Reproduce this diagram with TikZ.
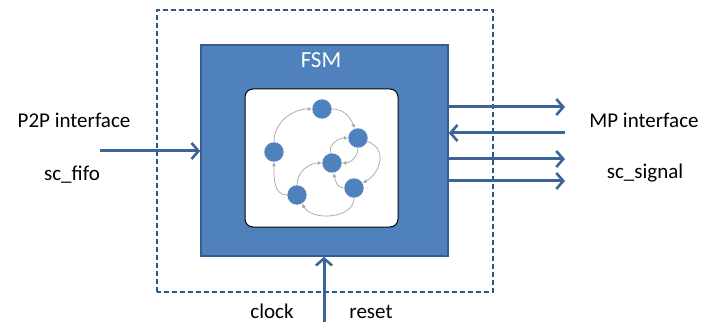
\documentclass[tikz,border=0pt]{standalone}
\usepackage{fontspec}
\setmainfont{Carlito}
\usepackage{tikz}
\usetikzlibrary{arrows.meta,positioning,calc}
\definecolor{fsmBlue}  {RGB}{ 79,129,189}
\definecolor{fsmBlueD} {RGB}{ 56, 93,138}
\definecolor{sigBlue}  {RGB}{ 60,100,152}
\definecolor{dashBlue} {RGB}{ 47, 85,140}
\definecolor{trGrey}   {RGB}{165,165,165}

\begin{document}
\begin{tikzpicture}[
  x=1pt,y=1pt,
  every node/.style={font=\fontsize{21}{25}\selectfont},
  fsm/.style  ={draw=fsmBlueD,fill=fsmBlue,line width=1.5pt},
  core/.style ={draw=black,fill=white,line width=1pt,rounded corners=8pt},
  wrap/.style ={draw=dashBlue,line width=1.2pt,dash pattern=on 5pt off 3pt},
  st/.style   ={circle,fill=fsmBlue,draw=white,line width=0.4pt,
                minimum size=20pt,inner sep=0pt},
  tr/.style   ={->,>={Latex[length=4pt,width=4pt]},draw=trGrey,line width=0.7pt},
  sig/.style  ={draw=sigBlue,line width=3pt,
                -{Straight Barb[length=7pt,width=16pt,line width=2.6pt]}},
  lbl/.style  ={anchor=base,inner sep=0pt}
]
\useasboundingbox (0,0) rectangle (716,322);

% outer module boundary and the FSM block
\draw[wrap] (157,30) rectangle (493,312);
\node[fsm,minimum width=247pt,minimum height=211pt,inner sep=0pt] (fsmBox) at (324.5,171.5) {};
\node[lbl,text=white,font=\fontsize{23}{27}\selectfont] (fsmLbl) at (321,254) {FSM};
\node[core,minimum width=153pt,minimum height=138pt,inner sep=0pt] (core) at (321.5,164) {};

% states
\node[st] (S1) at (322,213) {};
\node[st] (S2) at (358,184) {};
\node[st] (S3) at (274,170) {};
\node[st] (S4) at (332,159) {};
\node[st] (S5) at (354,134) {};
\node[st] (S6) at (297,127) {};

% transitions
\draw[tr] (S3) to[out=90,in=180] (S1);
\draw[tr] (S1) to[out=0,in=110] (S2);
\draw[tr] (S2) to[out=-90,in=0] (S4);
\draw[tr] (S4) to[out=100,in=180] (S2);
\draw[tr] (S2) to[out=-20,in=30,looseness=1.3] (S5);
\draw[tr] (S5) to[out=180,in=-80] (S4);
\draw[tr] (S6) to[out=90,in=180] (S4);
\draw[tr] (S5) to[out=-90,in=-60] (S6);
\draw[tr] (S6) to[out=180,in=-90] (S3);

% interface labels
\node[lbl] (p2p)  at (74,194)  {P2P interface};
\node[lbl] (fifo) at (72,142)  {sc\_fifo};
\node[lbl] (mp)   at (644,194) {MP interface};
\node[lbl] (scs)  at (645,143) {sc\_signal};
\node[lbl] (clk)  at (272,4)   {clock};
\node[lbl] (rst)  at (371,4)   {reset};

% signal ends
\coordinate (inL) at (100,171);
\coordinate (inB) at (324,0);
\coordinate (o1) at (565,215);
\coordinate (o2) at (565,189);
\coordinate (o3) at (565,163);
\coordinate (o4) at (565,141);

\draw[sig] (inL) -- (inL -| fsmBox.west);
\draw[sig] (inB) -- (inB |- fsmBox.south);
\foreach \o in {o1,o3,o4} \draw[sig] (\o -| fsmBox.east) -- (\o);
\draw[sig] (o2) -- (o2 -| fsmBox.east);
\end{tikzpicture}
\end{document}
